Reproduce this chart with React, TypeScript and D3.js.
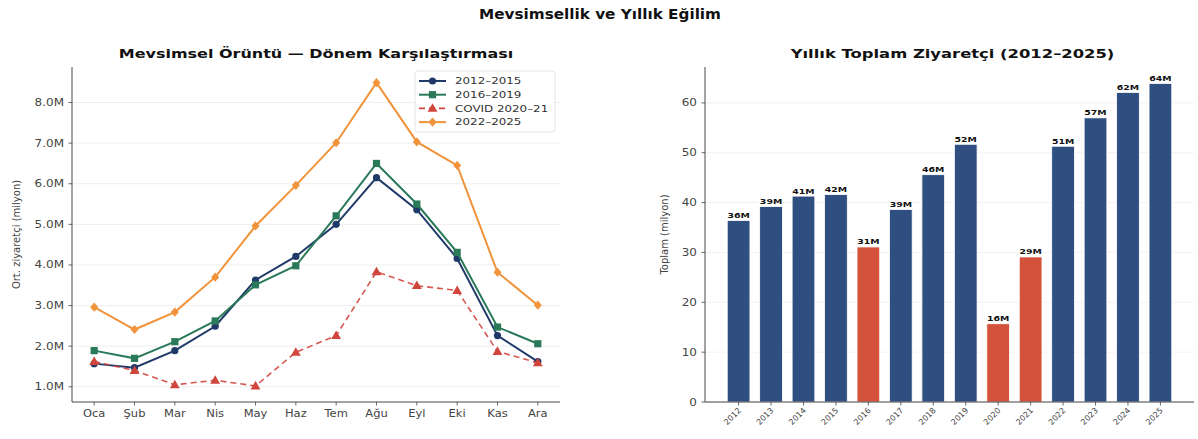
import React from "react";
import * as d3 from "d3";

const months = ["Oca", "Şub", "Mar", "Nis", "May", "Haz", "Tem", "Ağu", "Eyl", "Eki", "Kas", "Ara"];
const s2012_2015 = [1.57, 1.47, 1.89, 2.49, 3.63, 4.21, 5.0, 6.15, 5.36, 4.16, 2.26, 1.62];
const s2016_2019 = [1.89, 1.70, 2.11, 2.62, 3.51, 3.98, 5.21, 6.50, 5.50, 4.31, 2.47, 2.06];
const sCovid = [1.62, 1.40, 1.05, 1.16, 1.02, 1.85, 2.26, 3.83, 3.49, 3.37, 1.87, 1.59];
const s2022_2025 = [2.96, 2.41, 2.84, 3.70, 4.96, 5.96, 7.01, 8.49, 7.03, 6.45, 3.82, 3.01];
const seriesNames = ["2012–2015", "2016–2019", "COVID 2020–21", "2022–2025"];
const leftTicks = [1, 2, 3, 4, 5, 6, 7, 8];

const years = ["2012", "2013", "2014", "2015", "2016", "2017", "2018", "2019", "2020", "2021", "2022", "2023", "2024", "2025"];
const totals = [36.4, 39.2, 41.3, 41.6, 31.1, 38.6, 45.6, 51.7, 15.7, 29.1, 51.3, 57.0, 62.1, 63.9];
const highlighted = ["2016", "2020", "2021"];
const rightTicks = [0, 10, 20, 30, 40, 50, 60];

const FONT = "DejaVu Sans, sans-serif";
const colors = ["#1f3a68", "#2a7a5a", "#d0453c", "#f0933a"];
const markers = ["circle", "square", "triangle", "diamond"];

function Marker({ type, x, y, color }: { type: string; x: number; y: number; color: string }) {
  if (type === "circle") return <circle cx={x} cy={y} r={3.6} fill={color} />;
  if (type === "square") return <rect x={x - 3.6} y={y - 3.6} width={7.2} height={7.2} fill={color} />;
  if (type === "triangle")
    return <path d={d3.symbol(d3.symbolTriangle, 42)()!} transform={`translate(${x},${y + 0.6})`} fill={color} />;
  return <path d={`M${x},${y - 4.6}L${x + 4},${y}L${x},${y + 4.6}L${x - 4},${y}Z`} fill={color} />;
}

// text stretched horizontally (the reference glyphs are wider than tall)
function T({
  x, y, sx = 1.15, rot = 0, anchor = "start", size, weight, fill = "#444", dy, children,
}: {
  x: number; y: number; sx?: number; rot?: number; anchor?: string; size: number; weight?: string; fill?: string; dy?: string; children: React.ReactNode;
}) {
  return (
    <g transform={`translate(${x},${y}) rotate(${rot}) scale(${sx},1)`}>
      <text x={0} y={0} dy={dy} textAnchor={anchor as any} fontSize={size} fontWeight={weight} fill={fill}>
        {children}
      </text>
    </g>
  );
}

export default function App() {
  const W = 1198, H = 439;
  const L = { x0: 72, x1: 560, y0: 67, y1: 402 };
  const xL = d3.scaleLinear().domain([-0.55, 11.55]).range([L.x0, L.x1]);
  const yL = d3.scaleLinear().domain([0.625, 8.875]).range([L.y1, L.y0]);
  const series = [s2012_2015, s2016_2019, sCovid, s2022_2025];
  const line = d3.line<number>().x((_, i) => xL(i)).y((d) => yL(d));

  const R = { x0: 705, x1: 1194, y0: 67, y1: 402 };
  const xR = d3.scaleLinear().domain([-1.035, 14.035]).range([R.x0, R.x1]);
  const yR = d3.scaleLinear().domain([0, 67.2]).range([R.y1, R.y0]);
  const bw = xR(0.7) - xR(0);
  const tickColor = "#444";

  return (
    <svg width={W} height={H} style={{ display: "block", position: "absolute", left: 0, top: 0 }} fontFamily={FONT}>
      <rect width={W} height={H} fill="#fff" />
      <T x={600} y={19} sx={1.13} anchor="middle" size={13.5} weight="bold" fill="#111">
        Mevsimsellik ve Yıllık Eğilim
      </T>

      {/* LEFT */}
      <T x={(L.x0 + L.x1) / 2} y={58} sx={1.25} anchor="middle" size={12.8} weight="bold" fill="#111">
        Mevsimsel Örüntü — Dönem Karşılaştırması
      </T>
      {leftTicks.map((t) => (
        <g key={t}>
          <line x1={L.x0} x2={L.x1} y1={yL(t)} y2={yL(t)} stroke="#e6e6e6" strokeWidth={0.7} />
          <line x1={L.x0 - 3.5} x2={L.x0} y1={yL(t)} y2={yL(t)} stroke={tickColor} strokeWidth={0.8} />
          <T x={L.x0 - 8} y={yL(t)} dy="0.35em" anchor="end" size={10} sx={1.2}>
            {t.toFixed(1)}M
          </T>
        </g>
      ))}
      {months.map((m, i) => (
        <g key={m}>
          <line x1={xL(i)} x2={xL(i)} y1={L.y1} y2={L.y1 + 3.5} stroke={tickColor} strokeWidth={0.8} />
          <T x={xL(i)} y={L.y1 + 15} anchor="middle" size={10} sx={1.15}>
            {m}
          </T>
        </g>
      ))}
      <T x={20} y={(L.y0 + L.y1) / 2} rot={-90} sx={1} anchor="middle" size={10}>
        Ort. ziyaretçi (milyon)
      </T>
      {series.map((s, k) => (
        <g key={k}>
          <path
            d={line(s)!}
            fill="none"
            stroke={colors[k]}
            strokeWidth={k === 2 ? 1.6 : 2}
            strokeDasharray={k === 2 ? "6,4" : undefined}
            opacity={k === 2 ? 0.9 : 1}
          />
          {s.map((v, i) => (
            <Marker key={i} type={markers[k]} x={xL(i)} y={yL(v)} color={colors[k]} />
          ))}
        </g>
      ))}
      <line x1={L.x0} x2={L.x0} y1={L.y0} y2={L.y1} stroke="#333" strokeWidth={0.9} />
      <line x1={L.x0} x2={L.x1} y1={L.y1} y2={L.y1} stroke="#333" strokeWidth={0.9} />
      <g>
        <rect x={415} y={71} width={140} height={61} rx={3} fill="#fff" fillOpacity={0.85} stroke="#ddd" strokeWidth={0.8} />
        {seriesNames.map((n, k) => {
          const yy = 81 + k * 13.7;
          return (
            <g key={n}>
              <line
                x1={419}
                x2={446}
                y1={yy}
                y2={yy}
                stroke={colors[k]}
                strokeWidth={k === 2 ? 1.6 : 2}
                strokeDasharray={k === 2 ? "6,4" : undefined}
              />
              <Marker type={markers[k]} x={432.5} y={yy} color={colors[k]} />
              <T x={455} y={yy} dy="0.35em" size={9.5} sx={1.25} fill="#333">
                {n}
              </T>
            </g>
          );
        })}
      </g>

      {/* RIGHT */}
      <T x={(R.x0 + R.x1) / 2 + 3} y={58} sx={1.28} anchor="middle" size={12.8} weight="bold" fill="#111">
        Yıllık Toplam Ziyaretçi (2012–2025)
      </T>
      {rightTicks.map((t) => (
        <g key={t}>
          <line x1={R.x0} x2={R.x1} y1={yR(t)} y2={yR(t)} stroke="#ececec" strokeWidth={0.7} />
          <line x1={R.x0 - 3.5} x2={R.x0} y1={yR(t)} y2={yR(t)} stroke={tickColor} strokeWidth={0.8} />
          <T x={R.x0 - 8} y={yR(t)} dy="0.35em" anchor="end" size={10} sx={1.2}>
            {t}
          </T>
        </g>
      ))}
      <T x={668} y={(R.y0 + R.y1) / 2} rot={-90} sx={1} anchor="middle" size={10}>
        Toplam (milyon)
      </T>
      {years.map((yr, i) => {
        const v = totals[i];
        const c = highlighted.includes(yr) ? "#d4513b" : "#2f4f80";
        return (
          <g key={yr}>
            <rect x={xR(i) - bw / 2} y={yR(v)} width={bw} height={R.y1 - yR(v)} fill={c} stroke="#fff" strokeWidth={0.8} />
            <T x={xR(i)} y={yR(v) - 2.5} anchor="middle" size={7.5} sx={1.25} weight="bold" fill="#111">
              {Math.round(v)}M
            </T>
            <line x1={xR(i)} x2={xR(i)} y1={R.y1} y2={R.y1 + 3.5} stroke={tickColor} strokeWidth={0.8} />
            <g transform={`translate(${xR(i) + 3},${R.y1 + 9}) rotate(-45)`}>
              <text x={0} y={0} textAnchor="end" fontSize={8} fill={tickColor}>
                {yr}
              </text>
            </g>
          </g>
        );
      })}
      <line x1={R.x0} x2={R.x0} y1={R.y0} y2={R.y1} stroke="#333" strokeWidth={0.9} />
      <line x1={R.x0} x2={R.x1} y1={R.y1} y2={R.y1} stroke="#333" strokeWidth={0.9} />
    </svg>
  );
}
